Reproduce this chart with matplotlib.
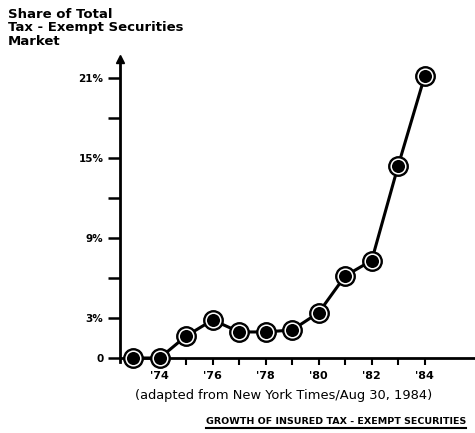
import matplotlib.pyplot as plt
import numpy as np

years = [1973, 1974, 1975, 1976, 1977, 1978, 1979, 1980, 1981, 1982, 1983, 1984]
share = [0.0, 0.0, 1.65, 2.85, 1.95, 1.95, 2.1, 3.4, 6.15, 7.3, 14.4, 21.1]
ytick_vals = [0, 3, 6, 9, 12, 15, 18, 21]
ytick_labels = ['0', '3%', '', '9%', '', '15%', '', '21%']
xtick_years = list(range(1973, 1985))
xtick_labels = ["'%d" % (y % 100) if y % 2 == 0 else '' for y in xtick_years]

fig = plt.figure(figsize=(4.75, 4.33), dpi=100)
ax = fig.add_axes([0.2526, 0.1732, 0.7474, 0.700])

# line with ringed markers
ax.plot(years, share, color='black', lw=2.2, marker='o', ms=14,
        mfc='black', mec='black', clip_on=False, zorder=3)
ax.plot(years, share, ls='none', marker='o', ms=10.5,
        mfc='black', mec='white', mew=1.1, clip_on=False, zorder=4)

ax.set_xlim(1972.5, 1985.9)
ax.set_ylim(0, 22.7)

for s in ['top', 'right']:
    ax.spines[s].set_visible(False)
ax.spines['left'].set_linewidth(2)
ax.spines['bottom'].set_linewidth(2)
ax.spines['left'].set_bounds(-0.3, 22.2)

# arrow head on the y axis
ax.plot([1972.5], [22.4], marker='^', color='black', ms=6, clip_on=False)

ax.set_yticks(ytick_vals)
ax.set_yticklabels(ytick_labels, fontweight='bold', fontsize=7.5)
ax.set_xticks(xtick_years)
ax.set_xticklabels(xtick_labels, fontweight='bold', fontsize=8)
ax.tick_params(axis='y', length=9, width=1.8, pad=3)
ax.tick_params(axis='x', length=5, width=1.5, pad=4)

fig.text(0.017, 0.982, 'Share of Total\nTax - Exempt Securities\nMarket',
         ha='left', va='top', fontsize=9.5, fontweight='bold', linespacing=1.05)

fig.text(0.598, 0.0855, '(adapted from New York Times/Aug 30, 1984)',
         ha='center', va='center', fontsize=9.4)
t = fig.text(0.707, 0.027, 'GROWTH OF INSURED TAX - EXEMPT SECURITIES',
             ha='center', va='center', fontsize=6.8, fontweight='bold')

# underline the caption
fig.canvas.draw()
bb = t.get_window_extent().transformed(fig.transFigure.inverted())
fig.add_artist(plt.Line2D([bb.x0, bb.x1], [bb.y0 - 0.004, bb.y0 - 0.004],
                          color='black', lw=1.5))

fig.savefig('out.png', dpi=100)
